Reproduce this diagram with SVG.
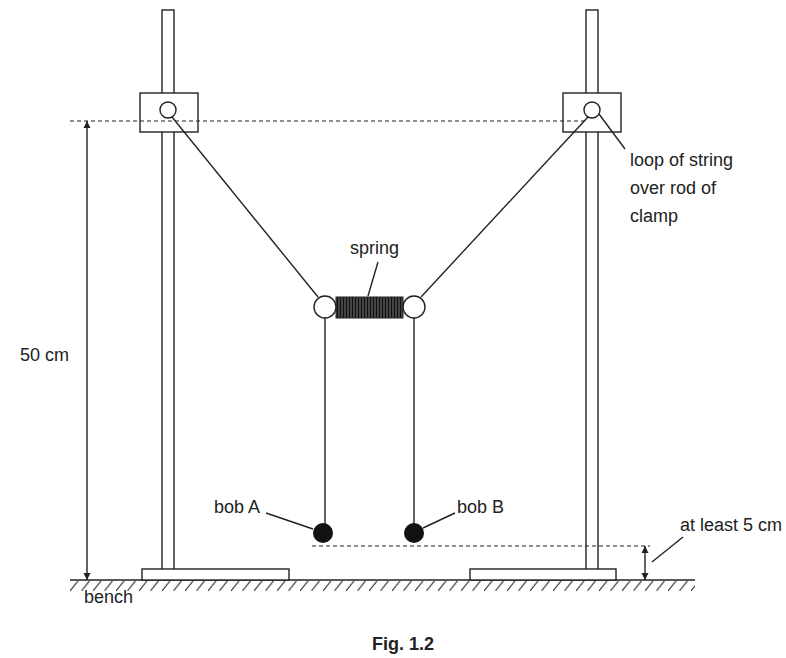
<svg xmlns="http://www.w3.org/2000/svg" width="786" height="658" viewBox="0 0 786 658">
<defs>
<style>
.l{stroke:#222;stroke-width:1.4;fill:none}
.f{stroke:#222;stroke-width:1.4;fill:#fff}
.d{stroke:#222;stroke-width:1.2;stroke-dasharray:4,3;fill:none}
.t{font-family:"Liberation Sans",Arial,sans-serif;font-size:18px;fill:#222}
</style>
<marker id="ah" viewBox="0 0 10 10" refX="10" refY="5" markerWidth="7" markerHeight="12" orient="auto-start-reverse" markerUnits="userSpaceOnUse"><path d="M0,0L10,5L0,10Z" fill="#222"/></marker>
<pattern id="sp" width="3" height="24" patternUnits="userSpaceOnUse"><rect width="3" height="24" fill="#555"/><line x1="1.5" y1="0" x2="1.5" y2="24" stroke="#111" stroke-width="1.5"/></pattern>
<pattern id="hatch" x="70" y="581" width="11.5" height="11" patternUnits="userSpaceOnUse"><line x1="0" y1="10" x2="8" y2="0" stroke="#333" stroke-width="1.2"/></pattern>
</defs>
<g id="bench">
<rect x="70" y="581" width="625" height="11" fill="url(#hatch)"/>
<line class="l" x1="70" y1="580" x2="695" y2="580"/>
<text class="t" x="84" y="603">bench</text>
</g>
<g id="stand-left">
<rect class="f" x="162" y="10" width="12" height="560"/>
<rect class="f" x="142" y="569" width="147" height="11"/>
<rect class="f" x="140" y="93" width="58" height="39"/>
<circle class="f" cx="168" cy="110" r="8"/>
</g>
<g id="stand-right">
<rect class="f" x="586" y="10" width="12" height="560"/>
<rect class="f" x="470" y="569" width="146" height="11"/>
<rect class="f" x="563" y="93" width="58" height="39"/>
<circle class="f" cx="592" cy="110" r="8"/>
</g>
<g id="connectors">
<line class="d" x1="70" y1="121" x2="585" y2="121"/>
<line class="l" x1="87" y1="121" x2="87" y2="580" marker-start="url(#ah)" marker-end="url(#ah)"/>
<line class="l" x1="172" y1="117" x2="318" y2="297"/>
<line class="l" x1="588" y1="117" x2="421" y2="297"/>
<line class="l" x1="325" y1="317" x2="325" y2="524"/>
<line class="l" x1="414" y1="317" x2="414" y2="524"/>
<line class="d" x1="312" y1="546" x2="650" y2="546"/>
<line class="l" x1="645" y1="546" x2="645" y2="580" marker-start="url(#ah)" marker-end="url(#ah)"/>
<line class="l" x1="683" y1="537" x2="652" y2="562"/>
<line class="l" x1="378" y1="262" x2="368" y2="296"/>
<line class="l" x1="266" y1="513" x2="313" y2="529"/>
<line class="l" x1="455" y1="513" x2="423" y2="528"/>
<line class="l" x1="599" y1="114" x2="625" y2="149"/>
</g>
<g id="spring">
<rect x="336" y="297" width="67" height="21" fill="url(#sp)" stroke="#222" stroke-width="1"/>
<circle class="f" cx="325" cy="307" r="11"/>
<circle class="f" cx="414" cy="307" r="11"/>
<text class="t" x="350" y="254">spring</text>
</g>
<g id="bob-a">
<circle cx="323" cy="533" r="10" fill="#111"/>
<text class="t" x="214" y="513">bob A</text>
</g>
<g id="bob-b">
<circle cx="414" cy="533" r="10" fill="#111"/>
<text class="t" x="457" y="513">bob B</text>
</g>
<g id="labels">
<text class="t" x="630" y="166">loop of string</text>
<text class="t" x="630" y="194">over rod of</text>
<text class="t" x="630" y="222">clamp</text>
<text class="t" x="20" y="361">50 cm</text>
<text class="t" x="680" y="531">at least 5 cm</text>
<text class="t" x="372" y="650" font-weight="bold" font-size="15">Fig. 1.2</text>
</g>
</svg>
